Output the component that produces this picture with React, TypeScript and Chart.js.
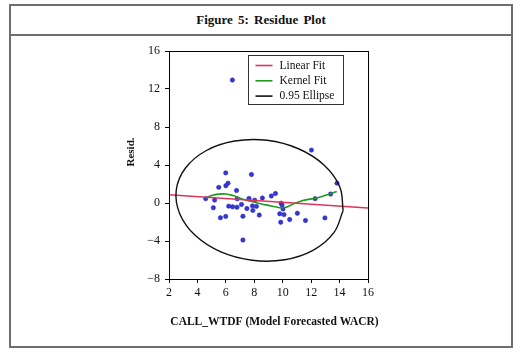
import React, { useEffect, useRef } from "react";
import { Chart, registerables } from "chart.js";
Chart.register(...registerables);

// Residual scatter (x = CALL_WTDF, y = residual)
const residX = [4.58, 5.12, 5.21, 5.5, 5.62, 5.99, 6.0, 6.15, 5.99, 6.2, 6.47, 6.75, 6.78, 6.8, 7.1, 7.2, 7.2, 7.48, 7.63, 7.8, 7.87, 7.9, 8.03, 8.15, 8.35, 8.57, 9.2, 9.49, 9.89, 9.95, 10.02, 9.79, 9.86, 10.09, 10.49, 11.03, 11.6, 12.28, 12.97, 13.37, 13.82, 12.02, 6.46];
const residY = [0.46, -0.5, 0.31, 1.65, -1.55, 3.17, 1.82, 2.09, -1.41, -0.33, -0.4, 1.31, -0.45, 0.45, -0.15, -1.39, -3.9, -0.58, 0.49, 3.0, -0.3, -0.78, 0.3, -0.35, -1.27, 0.52, 0.74, 1.0, -0.02, -0.2, -0.63, -1.13, -2.02, -1.22, -1.74, -1.08, -1.84, 0.46, -1.57, 0.94, 2.09, 5.57, 12.94];

// Linear fit (end points)
const linearX = [2, 16];
const linearY = [0.87, -0.52];

// Kernel fit
const kernelX = [4.6, 5.0, 5.5, 6.0, 6.5, 7.0, 7.5, 8.0, 8.5, 9.0, 9.5, 9.9, 10.3, 10.8, 11.3, 11.8, 12.3, 12.8, 13.3, 13.8];
const kernelY = [0.55, 0.78, 0.93, 0.95, 0.78, 0.5, 0.27, 0.1, -0.1, -0.25, -0.4, -0.5, -0.42, -0.05, 0.2, 0.38, 0.5, 0.7, 0.95, 1.2];

// 0.95 ellipse outline
const ellipseX = [14.25, 13.6, 12.16, 10.14, 7.86, 5.65, 3.86, 2.76, 2.51, 3.16, 4.6, 6.62, 8.9, 11.11, 12.9, 14.01];
const ellipseY = [-0.78, -3.12, -4.95, -5.97, -6.03, -5.15, -3.43, -1.15, 1.35, 3.68, 5.5, 6.52, 6.6, 5.71, 4.0, 1.71];

const xTicks = [2, 4, 6, 8, 10, 12, 14, 16];
const yTicks = [-8, -4, 0, 4, 8, 12, 16];

const legendLabels = ["Linear Fit", "Kernel Fit", "0.95 Ellipse"];
const titleText = "Figure 5: Residue Plot";
const xTitle = "CALL_WTDF (Model Forecasted WACR)";
const yTitle = "Resid.";

const SERIF = "'Liberation Serif', 'DejaVu Serif', serif";
const RED = "#e0345a";
const GREEN = "#229922";
const BLACK = "#111111";
const BLUE = "#3535d8";

const pairs = (xs: number[], ys: number[]) => xs.map((x, i) => ({ x, y: ys[i] }));

export default function App() {
  const ref = useRef<HTMLCanvasElement | null>(null);

  useEffect(() => {
    if (!ref.current) return;
    const ellipsePts = pairs(ellipseX, ellipseY);
    ellipsePts.push({ ...ellipsePts[0] });

    const framePlugin = {
      id: "frame",
      afterDatasetsDraw(chart: any) {
        const { ctx, chartArea: a } = chart;
        ctx.save();
        ctx.strokeStyle = "#000";
        ctx.lineWidth = 1;
        ctx.strokeRect(Math.round(a.left) + 0.5, Math.round(a.top) + 0.5, Math.round(a.right - a.left), Math.round(a.bottom - a.top));
        ctx.restore();
      },
    };

    const legendPlugin = {
      id: "insetLegend",
      afterDraw(chart: any) {
        const { ctx, chartArea: a } = chart;
        const bx = Math.round(a.left + 79) + 0.5;
        const by = Math.round(a.top + 4) + 0.5;
        const bw = 95;
        const bh = 49;
        ctx.save();
        ctx.fillStyle = "#fff";
        ctx.fillRect(bx, by, bw, bh);
        ctx.strokeStyle = "#333";
        ctx.lineWidth = 1;
        ctx.strokeRect(bx, by, bw, bh);
        const colors = [RED, GREEN, BLACK];
        ctx.font = `11.5px ${SERIF}`;
        ctx.textBaseline = "middle";
        ctx.textAlign = "left";
        legendLabels.forEach((lab, i) => {
          const y = by + 10 + i * 15.3;
          ctx.strokeStyle = colors[i];
          ctx.lineWidth = 1.6;
          ctx.beginPath();
          ctx.moveTo(bx + 7, y);
          ctx.lineTo(bx + 24, y);
          ctx.stroke();
          ctx.fillStyle = "#111";
          ctx.fillText(lab, bx + 31, y);
        });
        ctx.restore();
      },
    };

    const axisTitlePlugin = {
      id: "axisTitles",
      afterDraw(chart: any) {
        const { ctx, chartArea: a } = chart;
        ctx.save();
        ctx.fillStyle = "#111";
        ctx.textAlign = "center";
        ctx.textBaseline = "middle";
        ctx.font = `bold 11.5px ${SERIF}`;
        ctx.fillText(xTitle, (a.left + a.right) / 2 + 6, a.bottom + 43);
        ctx.translate(a.left - 38, (a.top + a.bottom) / 2 - 13);
        ctx.rotate(-Math.PI / 2);
        ctx.font = `bold 11px ${SERIF}`;
        ctx.fillText(yTitle, 0, 0);
        ctx.restore();
      },
    };

    const tickFont = { family: SERIF, size: 12 };

    const chart = new Chart(ref.current, {
      type: "scatter",
      data: {
        datasets: [
          {
            label: legendLabels[2],
            data: ellipsePts,
            showLine: true,
            borderColor: BLACK,
            borderWidth: 1.4,
            pointRadius: 0,
            tension: 0.4,
            fill: false,
          },
          {
            label: legendLabels[0],
            data: pairs(linearX, linearY),
            showLine: true,
            borderColor: RED,
            borderWidth: 1.5,
            pointRadius: 0,
          },
          {
            label: legendLabels[1],
            data: pairs(kernelX, kernelY),
            showLine: true,
            borderColor: GREEN,
            borderWidth: 1.6,
            pointRadius: 0,
            tension: 0.4,
          },
          {
            label: "Resid.",
            data: pairs(residX, residY),
            showLine: false,
            pointRadius: 2.2,
            pointBackgroundColor: BLUE,
            pointBorderColor: "#2727b0",
            pointBorderWidth: 0.5,
          },
        ],
      },
      options: {
        animation: false,
        responsive: false,
        devicePixelRatio: 1,
        layout: { padding: { left: 0, right: 152, top: 15, bottom: 0 } },
        plugins: { legend: { display: false }, tooltip: { enabled: false }, title: { display: false } },
        scales: {
          x: {
            type: "linear",
            min: xTicks[0],
            max: xTicks[xTicks.length - 1],
            afterBuildTicks: (s: any) => { s.ticks = xTicks.map((v) => ({ value: v })); },
            afterFit: (s: any) => { s.height = 57; },
            ticks: { font: tickFont, color: "#111", padding: 3, maxRotation: 0 },
            grid: { display: true, drawOnChartArea: false, drawTicks: true, tickLength: 4, color: "#000", lineWidth: 1 },
            border: { display: true, color: "#000", width: 1 },
          },
          y: {
            type: "linear",
            min: yTicks[0],
            max: yTicks[yTicks.length - 1],
            afterBuildTicks: (s: any) => { s.ticks = yTicks.map((v) => ({ value: v })); },
            afterFit: (s: any) => { s.width = 169; },
            ticks: {
              font: tickFont,
              color: "#111",
              padding: 5,
              callback: (v: any) => (Number(v) < 0 ? "\u2212" + Math.abs(Number(v)) : String(v)),
            },
            grid: { display: true, drawOnChartArea: false, drawTicks: true, tickLength: 4, color: "#000", lineWidth: 1 },
            border: { display: true, color: "#000", width: 1 },
          },
        },
      },
      plugins: [framePlugin, legendPlugin, axisTitlePlugin],
    } as any);
    return () => chart.destroy();
  }, []);

  return (
    <div style={{ position: "absolute", left: 0, top: 0, width: 520, height: 353, background: "#fff", overflow: "hidden" }}>
      <div
        style={{
          position: "absolute",
          left: 9,
          top: 4,
          width: 504,
          height: 344,
          boxSizing: "border-box",
          border: "2px solid #6e6e6e",
        }}
      />
      <div
        style={{
          position: "absolute",
          left: 9,
          top: 34,
          width: 504,
          height: 2,
          background: "#6e6e6e",
        }}
      />
      <div
        style={{
          position: "absolute",
          left: 9,
          top: 6,
          width: 504,
          height: 28,
          lineHeight: "28px",
          textAlign: "center",
          fontFamily: SERIF,
          fontWeight: "bold",
          fontSize: 13,
          color: "#111",
          wordSpacing: 2,
        }}
      >
        {titleText}
      </div>
      <canvas ref={ref} width={520} height={300} style={{ position: "absolute", left: 0, top: 36, width: 520, height: 300 }} />
    </div>
  );
}
